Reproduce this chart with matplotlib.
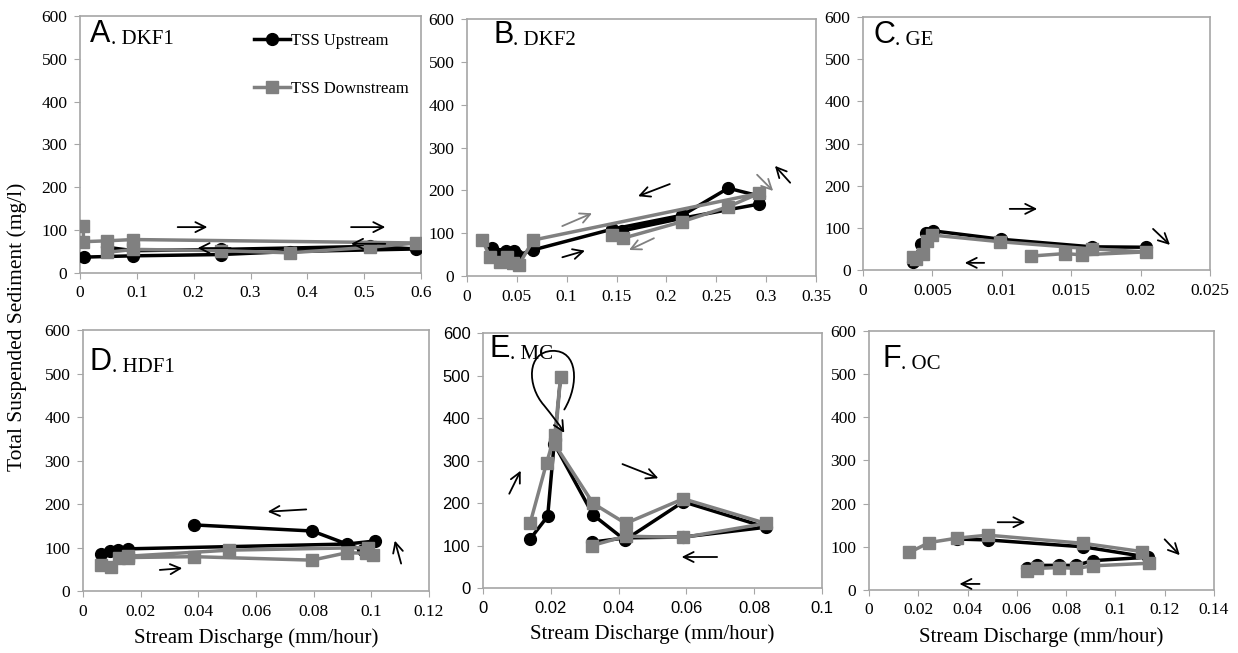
import matplotlib
matplotlib.use('Agg')
import matplotlib.pyplot as plt
from matplotlib.path import Path
from matplotlib.patches import FancyArrowPatch

# TSS (mg/l) against stream discharge (mm/hour)
# A. DKF1
a_up_x = [0.007, 0.094, 0.248, 0.369, 0.592, 0.51, 0.248, 0.094, 0.047]
a_up_y = [37, 40, 43, 50, 56, 62, 55, 52, 60]
a_dn_x = [0.006, 0.006, 0.047, 0.094, 0.592, 0.51, 0.369, 0.248, 0.094, 0.047]
a_dn_y = [110, 73, 75, 78, 70, 60, 47, 52, 55, 48]

# B. DKF2
b_up_x = [0.0248, 0.032, 0.039, 0.0475, 0.05, 0.0665, 0.145, 0.216, 0.262, 0.293, 0.293, 0.216, 0.155]
b_up_y = [65, 52, 59, 59, 48, 61, 109, 142, 205, 187, 168, 135, 105]
b_dn_x = [0.0154, 0.023, 0.033, 0.040, 0.046, 0.052, 0.0665, 0.293, 0.262, 0.216, 0.156, 0.145]
b_dn_y = [84, 45, 33, 45, 30, 26, 84, 193, 162, 127, 88, 96]

# C. GE
c_up_x = [0.00363, 0.0042, 0.00454, 0.00502, 0.00992, 0.01648, 0.0204]
c_up_y = [20, 62, 87, 93, 73, 55, 54]
c_dn_x = [0.0038, 0.00363, 0.0043, 0.0046, 0.005, 0.0099, 0.0165, 0.0204, 0.01575, 0.01455, 0.01208]
c_dn_y = [25, 32, 39, 70, 83, 67, 50, 43, 36, 39, 33]

# D. HDF1
d_up_x = [0.0062, 0.0094, 0.0122, 0.0155, 0.0915, 0.1013, 0.0972, 0.0795, 0.0385]
d_up_y = [84, 92, 94, 97, 108, 115, 94, 138, 152]
d_dn_x = [0.0062, 0.0097, 0.0125, 0.0155, 0.0385, 0.0795, 0.0915, 0.098, 0.1007, 0.099, 0.0507, 0.0155]
d_dn_y = [60, 56, 75, 77, 79, 71, 88, 87, 83, 100, 94, 80]

# E. MC
e_up_x = [0.0139, 0.0191, 0.021, 0.0325, 0.0419, 0.0591, 0.0835, 0.0591, 0.0421, 0.0322]
e_up_y = [115, 169, 340, 172, 113, 203, 143, 120, 118, 108]
e_dn_x = [0.0139, 0.0188, 0.0212, 0.0229, 0.0212, 0.0325, 0.0421, 0.0591, 0.0835, 0.0591, 0.0421, 0.0322]
e_dn_y = [152, 295, 360, 497, 338, 199, 152, 210, 152, 119, 122, 100]

# F. OC
f_up_x = [0.0356, 0.0482, 0.087, 0.1133, 0.091, 0.0839, 0.0771, 0.068, 0.0642]
f_up_y = [118, 116, 100, 76, 68, 57, 57, 57, 51]
f_dn_x = [0.0164, 0.0245, 0.0356, 0.0482, 0.087, 0.1107, 0.1138, 0.091, 0.0839, 0.0771, 0.068, 0.0642]
f_dn_y = [87, 110, 120, 127, 108, 89, 62, 56, 50, 52, 50, 45]

letters = ['A', 'B', 'C', 'D', 'E', 'F']
sites = ['DKF1', 'DKF2', 'GE', 'HDF1', 'MC', 'OC']
x_ticks = [
    ['0', '0.1', '0.2', '0.3', '0.4', '0.5', '0.6'],
    ['0', '0.05', '0.1', '0.15', '0.2', '0.25', '0.3', '0.35'],
    ['0', '0.005', '0.01', '0.015', '0.02', '0.025'],
    ['0', '0.02', '0.04', '0.06', '0.08', '0.1', '0.12'],
    ['0', '0.02', '0.04', '0.06', '0.08', '0.1'],
    ['0', '0.02', '0.04', '0.06', '0.08', '0.1', '0.12', '0.14'],
]
y_ticks = ['0', '100', '200', '300', '400', '500', '600']

series = [
    (a_up_x, a_up_y, a_dn_x, a_dn_y),
    (b_up_x, b_up_y, b_dn_x, b_dn_y),
    (c_up_x, c_up_y, c_dn_x, c_dn_y),
    (d_up_x, d_up_y, d_dn_x, d_dn_y),
    (e_up_x, e_up_y, e_dn_x, e_dn_y),
    (f_up_x, f_up_y, f_dn_x, f_dn_y),
]

# axes boxes in figure fractions
boxes = [
    [0.0646, 0.582, 0.2755, 0.3936],
    [0.3772, 0.5773, 0.2819, 0.3936],
    [0.6971, 0.5865, 0.2803, 0.3874],
    [0.0670, 0.0949, 0.2795, 0.3997],
    [0.3901, 0.0995, 0.2738, 0.3905],
    [0.7019, 0.0965, 0.2787, 0.3966],
]
title_pos = [(0.03, 0.90), (0.075, 0.907), (0.03, 0.897),
             (0.02, 0.847), (0.02, 0.906), (0.038, 0.861)]

# hand drawn direction arrows (tail -> head, data coords) for each panel
arrows = [
    [((0.167, 107), (0.229, 107), 'k'), ((0.472, 107), (0.542, 107), 'k'),
     ((0.27, 58), (0.202, 58), 'k'), ((0.542, 68), (0.472, 68), 'k')],
    [((0.206, 217), (0.169, 184), 'k'), ((0.093, 42), (0.121, 61), 'k'),
     ((0.093, 114), (0.128, 149), 'gray'), ((0.19, 91), (0.16, 58), 'gray'),
     ((0.326, 213), (0.307, 262), 'k'), ((0.289, 241), (0.309, 194), 'gray')],
    [((0.01037, 145), (0.01275, 145), 'k'), ((0.00893, 17), (0.00713, 17), 'k'),
     ((0.02075, 102), (0.02226, 55), 'k')],
    [((0.0784, 188), (0.0631, 182), 'k'), ((0.0257, 48), (0.0354, 53), 'k'),
     ((0.1106, 57), (0.1079, 122), 'k')],
    [((0.0074, 216), (0.0115, 282), 'k'), ((0.0404, 294), (0.0525, 256), 'k'),
     ((0.0699, 73), (0.0578, 73), 'k')],
    [((0.0511, 157), (0.0646, 157), 'k'), ((0.046, 14), (0.0356, 14), 'k'),
     ((0.1192, 122), (0.1269, 76), 'k')],
]

serif = 'Liberation Serif'
sans = 'Liberation Sans'
frame_col = '#a6a6a6'
up_col = 'black'
dn_col = '#808080'

fig = plt.figure(figsize=(12.38, 6.53), dpi=100)

for i in range(6):
    ax = fig.add_axes(boxes[i])
    ux, uy, dx, dy = series[i]
    ax.plot(ux, uy, color=up_col, lw=2.5, marker='o', ms=8.5, label='TSS Upstream', zorder=3)
    ax.plot(dx, dy, color=dn_col, lw=2.5, marker='s', ms=8.5, label='TSS Downstream', zorder=4)

    labels = x_ticks[i]
    vals = [float(v) for v in labels]
    ax.set_xlim(vals[0], vals[-1])
    ax.set_ylim(0, 600)
    tick_font = sans if i == 4 else serif
    tick_size = 12 if i == 4 else 12.5
    ax.set_xticks(vals)
    ax.set_xticklabels(labels, fontfamily=tick_font, fontsize=tick_size)
    ax.set_yticks([float(v) for v in y_ticks])
    ax.set_yticklabels(y_ticks, fontfamily=tick_font, fontsize=tick_size)
    ax.tick_params(direction='out', length=4, color=frame_col, pad=5)
    for sp in ax.spines.values():
        sp.set_color(frame_col)
        sp.set_linewidth(1.2)

    # panel title: sans letter followed by serif site name
    t = ax.text(title_pos[i][0], title_pos[i][1], letters[i], transform=ax.transAxes,
                fontfamily=sans, fontsize=22, va='baseline', ha='left')
    ax.annotate('. ' + sites[i], xy=(1, 0), xycoords=t, va='bottom', ha='left',
                fontfamily=serif, fontsize=15)

    for tail, head, col in arrows[i]:
        ax.annotate('', xy=head, xytext=tail, zorder=6,
                    arrowprops=dict(arrowstyle='->', color=col, lw=1.3, mutation_scale=18))

    if i == 0:
        ax.legend(loc='upper left', bbox_to_anchor=(0.49, 0.96), frameon=False,
                  prop={'family': serif, 'size': 12}, labelspacing=1.9,
                  handlelength=2.2, handletextpad=0.05, borderaxespad=0)
    if i >= 3:
        ax.set_xlabel('Stream Discharge (mm/hour)', fontfamily=serif, fontsize=15, labelpad=6)
    if i == 4:
        # loop drawn around the peak of the MC event
        verts = [(0.0240, 420), (0.0285, 480), (0.0280, 560), (0.0205, 558),
                 (0.0128, 556), (0.0130, 475), (0.0180, 430),
                 (0.0205, 405), (0.0225, 385), (0.0240, 365)]
        codes = [Path.MOVETO] + [Path.CURVE4] * 9
        loop = FancyArrowPatch(path=Path(verts, codes), arrowstyle='->',
                               mutation_scale=18, color='black', lw=1.3, zorder=6)
        ax.add_patch(loop)

fig.text(0.014, 0.5, 'Total Suspended Sediment (mg/l)', rotation=90, va='center',
         ha='center', fontfamily=serif, fontsize=15.5)

fig.savefig('out.png', dpi=100)
